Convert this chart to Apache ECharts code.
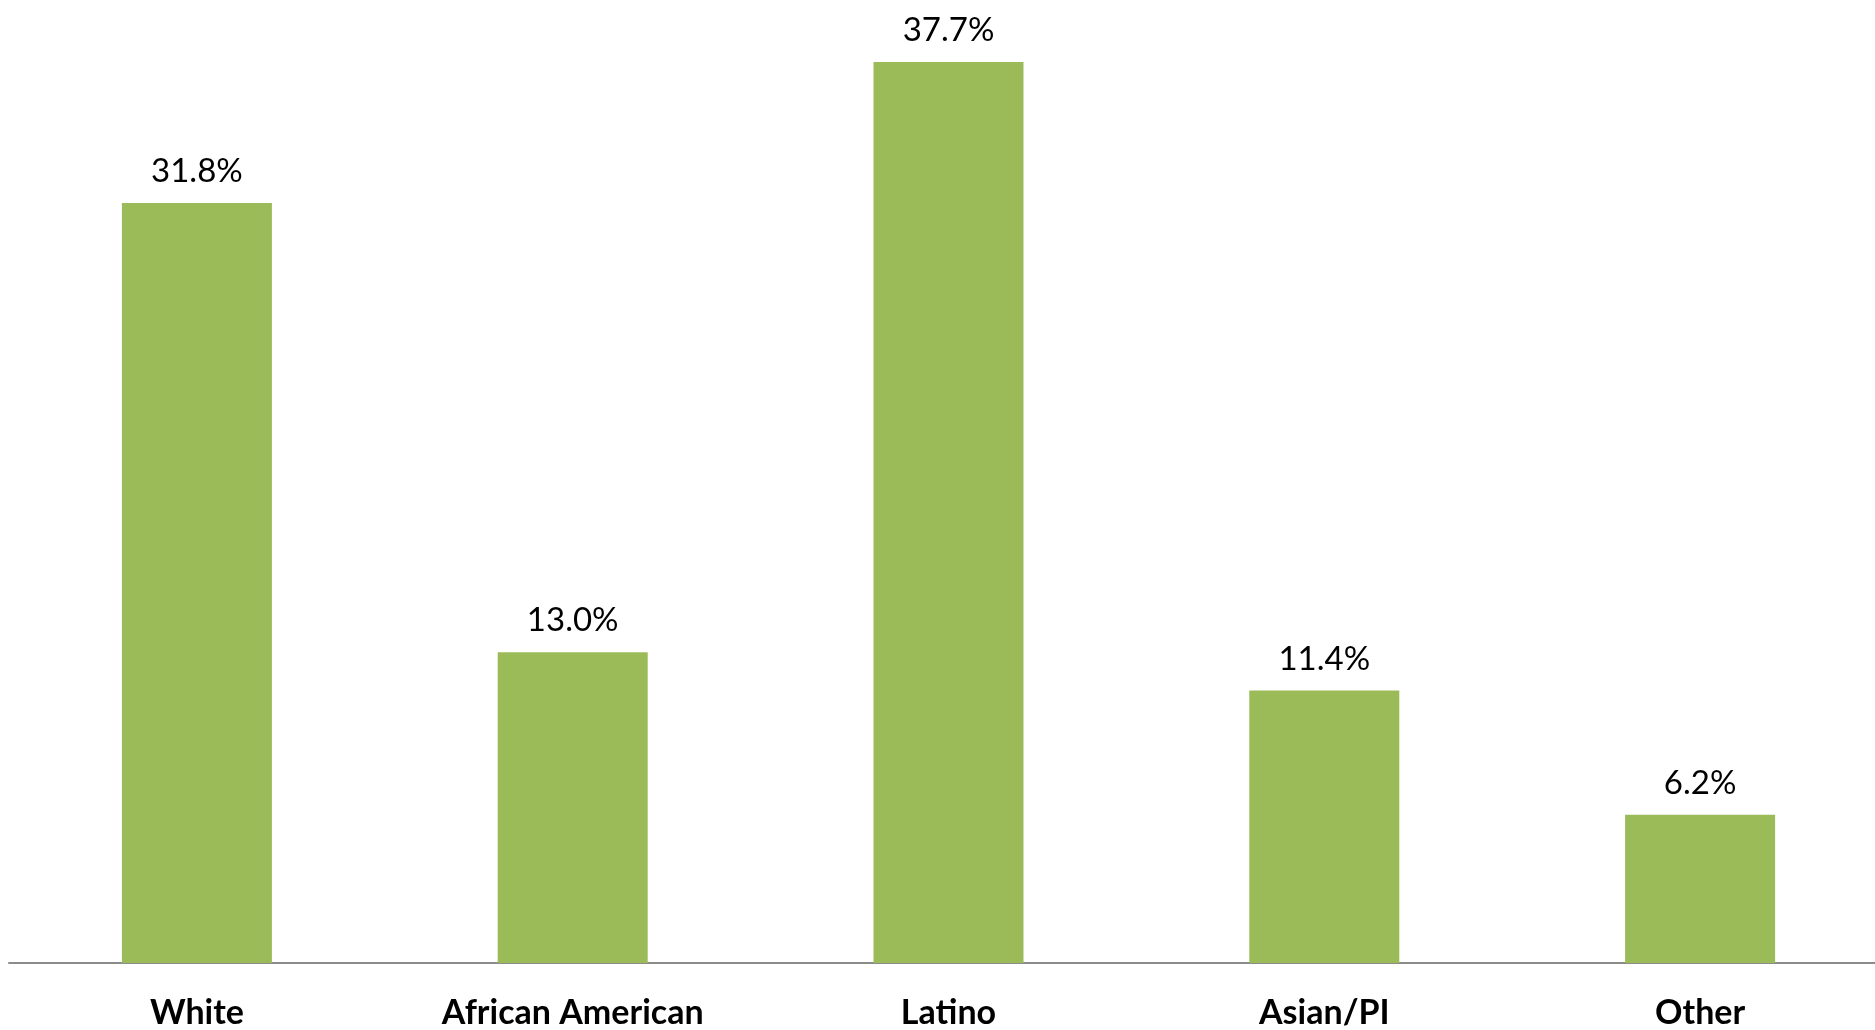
<!DOCTYPE html>
<html>
<head>
<meta charset="utf-8">
<script src="https://cdn.jsdelivr.net/npm/echarts@6/dist/echarts.min.js"></script>
<style>
html,body{margin:0;padding:0;background:#fff;overflow:hidden;}
#chart{width:1890px;height:1030px;}
</style>
</head>
<body>
<div id="chart"></div>
<script>
const categories = ["White", "African American", "Latino", "Asian/PI", "Other"];
const values = [31.8, 13.0, 37.7, 11.4, 6.2];

const chart = echarts.init(document.getElementById('chart'));
chart.setOption({
  animation: false,
  grid: { left: 9, top: 7, width: 1879, height: 960, containLabel: false },
  xAxis: {
    type: 'category',
    data: categories,
    axisLine: { lineStyle: { color: '#8c8c8c', width: 2 } },
    axisTick: { show: false },
    axisLabel: {
      color: '#000', fontSize: 34, fontWeight: 'bold',
      fontFamily: 'Lato, "Open Sans", sans-serif', margin: 33, interval: 0
    }
  },
  yAxis: {
    type: 'value', min: 0, max: 40, show: false,
    splitLine: { show: false }
  },
  series: [{
    type: 'bar',
    data: values,
    barWidth: 150,
    itemStyle: { color: '#9BBB59' },
    label: {
      show: true, position: 'top', distance: 15,
      color: '#000', fontSize: 33,
      fontFamily: 'Lato, "Open Sans", sans-serif',
      formatter: p => p.value.toFixed(1) + '%'
    }
  }]
});
</script>
</body>
</html>
